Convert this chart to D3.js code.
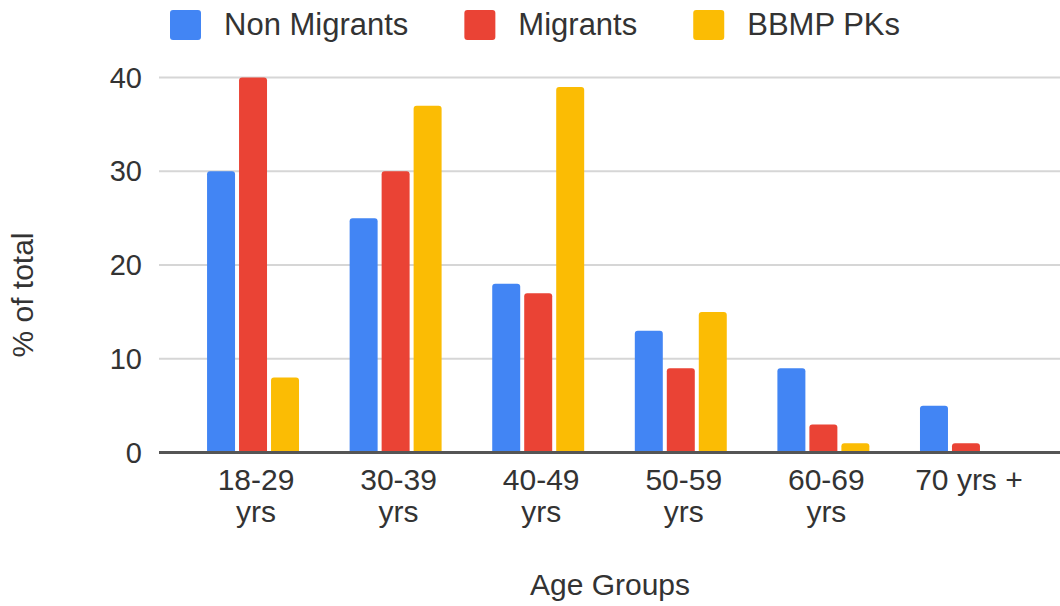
<!DOCTYPE html>
<html>
<head>
<meta charset="utf-8">
<script src="https://cdn.jsdelivr.net/npm/d3@7"></script>
<style>
  html, body { margin: 0; padding: 0; background: #fff; }
  svg { display: block; }
  text { font-family: "Liberation Sans", Arial, sans-serif; fill: #333; }
</style>
</head>
<body>
<svg id="chart" width="1060" height="606"></svg>
<script>
// Age groups on the x axis (two-line labels)
const categories = ["18-29 yrs", "30-39 yrs", "40-49 yrs", "50-59 yrs", "60-69 yrs", "70 yrs +"];
const categoryLines = [["18-29", "yrs"], ["30-39", "yrs"], ["40-49", "yrs"], ["50-59", "yrs"], ["60-69", "yrs"], ["70 yrs +"]];

// Series: share of each group, % of total
const seriesNames = ["Non Migrants", "Migrants", "BBMP PKs"];
const nonMigrants = [30, 25, 18, 13, 9, 5];
const migrants    = [40, 30, 17, 9, 3, 1];
const bbmpPks     = [8, 37, 39, 15, 1, 0];
const seriesColors = ["#4285F4", "#EA4335", "#FBBC04"];

const yTicks = [0, 10, 20, 30, 40];
const xTitle = "Age Groups";
const yTitle = "% of total";

const seriesValues = [nonMigrants, migrants, bbmpPks];
const rows = categories.map((c, i) => ({
  category: c,
  values: seriesNames.map((s, j) => ({ series: s, idx: j, value: seriesValues[j][i] }))
}));

const svg = d3.select("#chart");
const plot = { left: 159, right: 1060, top: 77.5, bottom: 452.5 };

const x0 = d3.scaleBand()
  .domain(categories)
  .range([plot.left, plot.right])
  .paddingInner(0.355)
  .paddingOuter(0.337);

const x1 = d3.scaleBand()
  .domain(seriesNames)
  .range([0, x0.bandwidth()])
  .paddingInner(0.125)
  .paddingOuter(0);

const y = d3.scaleLinear().domain([0, 40]).range([plot.bottom, plot.top]);

// Horizontal gridlines
svg.append("g")
  .selectAll("line")
  .data(yTicks.filter(t => t !== 0))
  .join("line")
  .attr("x1", plot.left).attr("x2", plot.right)
  .attr("y1", d => y(d)).attr("y2", d => y(d))
  .attr("stroke", "#d6d6d6").attr("stroke-width", 2);

// Y tick labels
svg.append("g")
  .selectAll("text")
  .data(yTicks)
  .join("text")
  .attr("x", 142)
  .attr("y", d => y(d))
  .attr("dy", "0.35em")
  .attr("text-anchor", "end")
  .style("font-size", "29px")
  .text(d => d);

// Bars with slightly rounded tops
function topRoundedBar(x, yTop, w, h, r) {
  if (h <= 0) return "";
  r = Math.min(r, h, w / 2);
  const yb = yTop + h;
  return `M${x},${yb}V${yTop + r}Q${x},${yTop} ${x + r},${yTop}H${x + w - r}Q${x + w},${yTop} ${x + w},${yTop + r}V${yb}Z`;
}

svg.append("g")
  .selectAll("g")
  .data(rows)
  .join("g")
  .attr("transform", d => `translate(${x0(d.category)},0)`)
  .selectAll("path")
  .data(d => d.values)
  .join("path")
  .attr("fill", d => seriesColors[d.idx])
  .attr("d", d => topRoundedBar(x1(d.series), y(d.value), x1.bandwidth(), y(0) - y(d.value), 3));

// Baseline
svg.append("line")
  .attr("x1", plot.left).attr("x2", plot.right)
  .attr("y1", y(0)).attr("y2", y(0))
  .attr("stroke", "#555").attr("stroke-width", 3);

// X category labels
const xl = svg.append("g")
  .selectAll("text")
  .data(categories)
  .join("text")
  .attr("text-anchor", "middle")
  .attr("x", d => x0(d) + x0.bandwidth() / 2 + 3)
  .attr("y", 490)
  .style("font-size", "30px");
xl.each(function(d, i) {
  const t = d3.select(this);
  categoryLines[i].forEach((line, k) => {
    t.append("tspan")
      .attr("x", x0(d) + x0.bandwidth() / 2 + 3)
      .attr("dy", k === 0 ? 0 : 32)
      .text(line);
  });
});

// Axis titles
svg.append("text")
  .attr("x", 610).attr("y", 595)
  .attr("text-anchor", "middle")
  .style("font-size", "30px")
  .text(xTitle);

svg.append("text")
  .attr("transform", "translate(33,295) rotate(-90)")
  .attr("text-anchor", "middle")
  .style("font-size", "30px")
  .text(yTitle);

// Legend
const legend = svg.append("g");
let lx = 170;
seriesNames.forEach((name, i) => {
  legend.append("rect")
    .attr("x", lx).attr("y", 10)
    .attr("width", 31).attr("height", 30)
    .attr("rx", 3)
    .attr("fill", seriesColors[i]);
  const t = legend.append("text")
    .attr("x", lx + 54).attr("y", 35)
    .style("font-size", "31px")
    .text(name);
  lx = lx + 54 + t.node().getComputedTextLength() + 56;
});
</script>
</body>
</html>
